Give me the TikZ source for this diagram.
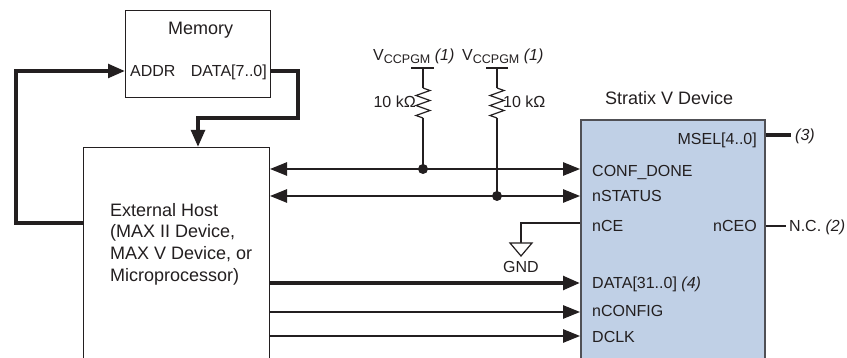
\documentclass[tikz,border=0pt]{standalone}
\usepackage{fontspec}
\setmainfont{Liberation Sans}
\usetikzlibrary{arrows.meta}
\definecolor{ink}{RGB}{35,31,32}
\definecolor{devfill}{RGB}{192,208,230}
\definecolor{devline}{RGB}{80,80,85}
\begin{document}
\begin{tikzpicture}[x=1pt,y=-1pt,
  tip/.tip={Triangle[length=17pt,width=13.5pt]},
  wire/.style={draw=ink,line width=1.2pt},
  bus/.style={draw=ink,line width=3.8pt},
  box/.style={draw=ink,line width=1.1pt,fill=white,inner sep=0pt},
  lbl/.style={font=\fontsize{16}{19}\selectfont, text=ink, inner sep=0pt},
  ttl/.style={font=\fontsize{18}{21.7}\selectfont, text=ink, inner sep=0pt},
  dot/.style={circle, fill=ink, inner sep=0pt, minimum size=10pt},
  res/.pic={\draw[wire] (0,0) -- (7,2.5) -- (-7,7.5) -- (7,12.5) -- (-7,17.5) -- (7,22.5) -- (-7,27.5) -- (0,30);}
]
\clip (0,0) rectangle (847,358);

% boxes
\node[box, minimum width=145pt, minimum height=87pt, anchor=north west] (mem) at (125,10) {};
\node[box, minimum width=186pt, minimum height=240pt, anchor=north west] (host) at (83,147) {};
\node[draw=devline, fill=devfill, line width=1.6pt, inner sep=0pt,
      minimum width=184pt, minimum height=260pt, anchor=north west] (dev) at (580,119) {};

% line levels
\coordinate (ymem) at (0,71);
\coordinate (yloop) at (0,223);
\coordinate (ymsel) at (0,135);
\coordinate (yconf) at (0,169);
\coordinate (ystat) at (0,196);
\coordinate (ynce) at (0,223);
\coordinate (ynceo) at (0,226);
\coordinate (ydata) at (0,283);
\coordinate (ycfg) at (0,312);
\coordinate (yclk) at (0,336);

% memory texts
\node[ttl, anchor=base west] (memt) at (168,35) {Memory};
\node[lbl, anchor=base west] (addr) at (130,76.5) {ADDR};
\node[lbl, anchor=base east] (mdata) at (267,76.5) {DATA[7..0]};

% host text
\node[ttl, anchor=north west, align=left] (htxt) at (110,203)
  {External Host\\(MAX II Device,\\MAX V Device, or\\Microprocessor)};

% memory buses
\coordinate (c1) at (16,223);
\coordinate (c2) at (16,71);
\draw[bus, -{tip}] (host.west |- yloop) -- (c1) -- (c2) -- (mem.west |- ymem);
\coordinate (c3) at (298,71);
\coordinate (c4) at (298,118);
\coordinate (c5) at (198,118);
\draw[bus, -{tip}] (mem.east |- ymem) -- (c3) -- (c4) -- (c5) -- ([xshift=115pt]host.north west);

% device texts
\node[ttl, anchor=base west] (devt) at (605,105) {Stratix V Device};
\node[lbl, anchor=base east] (msel) at (757,145) {MSEL[4..0]};
\node[lbl, anchor=base west] (pconf) at (592,176.7) {CONF\_DONE};
\node[lbl, anchor=base west] (pstat) at (592,201.7) {nSTATUS};
\node[lbl, anchor=base west] (pnce) at (592,231.7) {nCE};
\node[lbl, anchor=base east] (pnceo) at (757,231.7) {nCEO};
\node[lbl, anchor=base west] (pdata) at (592,288.3) {DATA[31..0] \textit{(4)}};
\node[lbl, anchor=base west] (pcfg) at (592,317) {nCONFIG};
\node[lbl, anchor=base west] (pclk) at (592,343) {DCLK};

% right side
\coordinate (mselend) at (791,135);
\draw[bus] (dev.east |- ymsel) -- (mselend);
\node[lbl, anchor=base west] (n3) at (795,140.5) {\textit{(3)}};
\coordinate (nceoend) at (786,226);
\draw[wire] (dev.east |- ynceo) -- (nceoend);
\node[lbl, anchor=base west] (nc) at (789,231.7) {N.C. \textit{(2)}};

% signal lines
\draw[wire, {tip}-{tip}] (host.east |- yconf) -- (dev.west |- yconf);
\draw[wire, {tip}-{tip}] (host.east |- ystat) -- (dev.west |- ystat);
\draw[bus, -{tip}] (host.east |- ydata) -- (dev.west |- ydata);
\draw[wire, -{tip}] (host.east |- ycfg) -- (dev.west |- ycfg);
\draw[wire, -{tip}] (host.east |- yclk) -- (dev.west |- yclk);

% nCE to GND
\coordinate (g1) at (521,223);
\coordinate (g2) at (521,243);
\draw[wire] (dev.west |- ynce) -- (g1) -- (g2);
\draw[wire, fill=white] (510,243) -- (532,243) -- (521,256) -- cycle;
\node[lbl, anchor=base] (gnd) at (521,272.7) {GND};

% pull-ups
\node[lbl, anchor=base west] (vcc1) at (373,61)
  {V\raisebox{-2.5pt}{\fontsize{12.5}{12.5}\selectfont CCPGM} \textit{(1)}};
\node[lbl, anchor=base west] (vcc2) at (462,61)
  {V\raisebox{-2.5pt}{\fontsize{12.5}{12.5}\selectfont CCPGM} \textit{(1)}};
\draw[wire] (411,68) -- (434,68);
\draw[wire] (486,68) -- (508,68);
\coordinate (v1) at (423,68);
\coordinate (r1t) at (423,88);
\coordinate (r1b) at (423,118);
\coordinate (v2) at (497,68);
\coordinate (r2t) at (497,88);
\coordinate (r2b) at (497,118);
\node[dot] (dot1) at (423,169) {};
\node[dot] (dot2) at (497,196) {};
\draw[wire] (v1) -- (r1t);
\pic at (r1t) {res};
\draw[wire] (r1b) -- (dot1.center);
\draw[wire] (v2) -- (r2t);
\pic at (r2t) {res};
\draw[wire] (r2b) -- (dot2.center);
\node[lbl, anchor=base east] (rv1) at (416,108) {10 kΩ};
\node[lbl, anchor=base west] (rv2) at (503,108) {10 kΩ};
\end{tikzpicture}
\end{document}
